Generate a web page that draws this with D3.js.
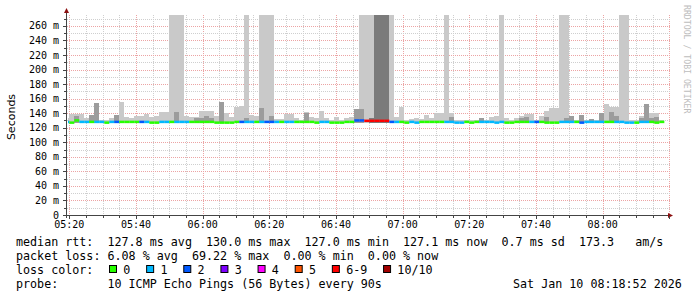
<!DOCTYPE html>
<html>
<head>
<meta charset="utf-8">
<script src="https://cdn.jsdelivr.net/npm/d3@7"></script>
<style>
  body { margin: 0; background: #fff; }
  text { font-family: "DejaVu Sans Mono", monospace; }
</style>
</head>
<body>
<svg id="chart"></svg>
<script>
var svgWidth = 697;
var svgHeight = 297;

// plot box in pixels
var plot = { left: 67, right: 670, top: 15, bottom: 215 };

// one sample every 90 s, first one starts 05:18:30
var stepSeconds = 90;
var firstStep = new Date(2026, 0, 10, 5, 18, 30);

// median rtt per step (ms)
var medianMs = [
  128, 127, 130, 128, 128, 128, 128, 128, 127, 128,
  128, 128, 128, 128, 128, 128, 128, 127, 127, 128,
  128, 128, 128, 128, 128, 128, 128, 128, 128, 128,
  127, 127, 127, 127, 128, 128, 128, 128, 128, 128,
  128, 128, 128, 128, 128, 128, 128, 128, 128, 128,
  127, 128, 128, 127, 127, 127, 128, 128, 130, 130,
  129.5, 129.5, 129.5, 129.5, 129.5, 128, 128, 128, 127, 128,
  127, 128, 128, 128, 128, 128, 128, 128, 127, 127,
  128, 127, 128, 128, 128, 128, 127, 128, 127, 127,
  128, 128, 128, 128, 128, 128, 127, 127, 127, 128,
  128, 128, 128, 127, 128, 128, 128, 128, 128, 128,
  128, 128, 127, 127, 127, 128, 128, 128, 127, 128
];

// lost pings (of 10) per step
var lossCount = [
  1, 0, 0, 1, 1, 0, 1, 1, 0, 1,
  2, 0, 0, 0, 0, 2, 1, 0, 0, 1,
  1, 0, 1, 1, 1, 0, 0, 0, 0, 0,
  0, 0, 0, 0, 0, 2, 1, 1, 0, 1,
  2, 2, 1, 0, 1, 1, 0, 0, 0, 0,
  0, 1, 1, 0, 0, 0, 0, 0, 2, 2,
  7, 7, 7, 6, 6, 2, 1, 0, 0, 1,
  1, 0, 0, 0, 0, 0, 1, 1, 1, 1,
  0, 0, 0, 1, 1, 1, 1, 1, 0, 0,
  0, 0, 0, 1, 2, 0, 0, 0, 0, 1,
  1, 1, 0, 2, 1, 1, 1, 1, 0, 0,
  1, 1, 1, 1, 0, 1, 1, 0, 0, 0
];

// smoke: highest ping per step (ms), light grey band
var smokeHi = [
  133, 139, 139, 139, 133, 137, 154, 131, 131, 133,
  137, 156, 135, 134, 136.6, 136.6, 139, 135, 136.6, 141,
  141, 300, 300, 300, 136.6, 135, 134.8, 143, 143, 143,
  136, 156, 140, 135, 149, 150, 300, 137.5, 136.6, 300,
  300, 300, 132, 132, 138.9, 139, 133, 131, 141, 135,
  133, 143, 133, 131, 135, 131, 133, 135, 146, 300,
  300, 300, 300, 300, 300, 300, 135, 148, 131, 132,
  134, 132, 137.5, 134, 140, 140, 300, 140, 131, 131,
  131, 131, 131, 133, 131, 135, 136.6, 300, 133, 131,
  133, 136.6, 139, 139, 131, 136.6, 143, 147, 147, 300,
  300, 136.6, 131, 137.5, 131, 132, 131, 140, 152, 148,
  148, 300, 300, 131, 131, 136.6, 153, 140, 140, 131
];

// smoke: middle grey band top (ms), 0 = none
var smokeMid = [
  0, 0, 136, 0, 0, 137, 154, 0, 0, 0,
  137, 0, 0, 0, 0, 0, 0, 0, 0, 0,
  0, 0, 142, 0, 0, 0, 133, 133, 136, 133,
  0, 156, 0, 0, 0, 0, 134, 0, 0, 147,
  0, 136, 0, 0, 0, 0, 0, 0, 140, 0,
  0, 0, 0, 0, 0, 0, 0, 0, 146, 146,
  0, 0, 0, 0, 0, 0, 0, 0, 0, 0,
  0, 0, 0, 0, 0, 0, 0, 135, 0, 0,
  0, 0, 0, 133, 0, 0, 0, 0, 0, 0,
  0, 134, 135, 0, 0, 0, 135, 0, 0, 0,
  134, 136.6, 0, 137.5, 0, 132, 0, 140, 0, 142,
  136, 0, 0, 0, 0, 133, 153, 134, 135, 0
];

// smoke: dark band top (ms), 0 = none
var smokeDark = [
  0, 0, 0, 0, 0, 0, 0, 0, 0, 0,
  0, 0, 0, 0, 0, 0, 0, 0, 0, 0,
  0, 0, 0, 0, 0, 0, 0, 0, 0, 0,
  0, 0, 0, 0, 0, 0, 0, 0, 0, 0,
  0, 0, 0, 0, 0, 0, 0, 0, 0, 0,
  0, 0, 0, 0, 0, 0, 0, 0, 0, 0,
  0, 134, 300, 300, 300, 0, 0, 0, 0, 0,
  0, 0, 0, 0, 0, 0, 0, 0, 0, 0,
  0, 0, 0, 0, 0, 0, 0, 0, 0, 0,
  0, 0, 0, 0, 0, 0, 0, 0, 0, 0,
  0, 0, 0, 0, 0, 0, 0, 0, 0, 0,
  0, 0, 0, 0, 0, 0, 0, 0, 0, 0
];

var lossLabels = ["0", "1", "2", "3", "4", "5", "6-9", "10/10"];
var lossColors = ["#26ff00", "#00b8ff", "#0059ff", "#7e00ff", "#ff00ff", "#ff5500", "#ff0000", "#a10000"];

var yTicks = [0, 20, 40, 60, 80, 100, 120, 140, 160, 180, 200, 220, 240, 260];
var yTickLabels = ["0", "20 m", "40 m", "60 m", "80 m", "100 m", "120 m", "140 m",
  "160 m", "180 m", "200 m", "220 m", "240 m", "260 m"];
var xTickLabels = ["05:20", "05:40", "06:00", "06:20", "06:40", "07:00", "07:20", "07:40", "08:00"];

var legendLines = [
  "median rtt:  127.8 ms avg  130.0 ms max  127.0 ms min  127.1 ms now  0.7 ms sd  173.3   am/s",
  "packet loss: 6.08 % avg  69.22 % max  0.00 % min  0.00 % now",
  "loss color:",
  "probe:       10 ICMP Echo Pings (56 Bytes) every 90s"
];
var stampText = "Sat Jan 10 08:18:52 2026";

var svg = d3.select("#chart")
  .attr("width", svgWidth)
  .attr("height", svgHeight);

svg.append("rect").attr("width", svgWidth).attr("height", svgHeight).attr("fill", "#fff");

var x = d3.scaleTime()
  .domain([new Date(2026, 0, 10, 5, 19, 18), new Date(2026, 0, 10, 8, 20, 12)])
  .range([plot.left, plot.right]);
var y = d3.scaleLinear().domain([0, 275]).range([plot.bottom, plot.top]);

function lossIndex(n) {
  if (n <= 5) return n;
  if (n < 10) return 6;
  return 7;
}

// grid
var grid = svg.append("g");
var minutes = d3.timeMinute.every(5).range(x.domain()[0], x.domain()[1]);
grid.selectAll("line.v")
  .data(minutes)
  .enter().append("line")
  .attr("x1", d => Math.round(x(d)) + 0.5)
  .attr("x2", d => Math.round(x(d)) + 0.5)
  .attr("y1", plot.top)
  .attr("y2", plot.bottom)
  .attr("stroke", d => d.getMinutes() % 20 === 0 ? "#eca4a4" : "#cfcfcf")
  .attr("stroke-dasharray", "1,1");

grid.selectAll("line.h")
  .data(d3.range(10, 280, 10))
  .enter().append("line")
  .attr("x1", plot.left)
  .attr("x2", plot.right)
  .attr("y1", d => Math.round(y(d)) + 0.5)
  .attr("y2", d => Math.round(y(d)) + 0.5)
  .attr("stroke", d => d % 20 === 0 ? "#eca4a4" : "#cfcfcf")
  .attr("stroke-dasharray", "1,1");

// data
svg.append("clipPath").attr("id", "clip")
  .append("rect")
  .attr("x", plot.left + 1).attr("y", plot.top)
  .attr("width", plot.right - plot.left - 1).attr("height", plot.bottom - plot.top);

var dataG = svg.append("g").attr("clip-path", "url(#clip)");
var steps = medianMs.map(function(m, i) {
  var t0 = new Date(firstStep.getTime() + i * stepSeconds * 1000);
  var t1 = new Date(t0.getTime() + stepSeconds * 1000);
  return { t0: t0, t1: t1, median: m, loss: lossCount[i],
    hi: smokeHi[i], mid: smokeMid[i], dark: smokeDark[i] };
});

var smokeBase = 126.5;
function band(key, color) {
  dataG.selectAll("rect." + key)
    .data(steps.filter(d => d[key] > 0))
    .enter().append("rect")
    .attr("class", key)
    .attr("x", d => x(d.t0))
    .attr("width", d => x(d.t1) - x(d.t0))
    .attr("y", d => y(d[key]))
    .attr("height", d => y(smokeBase) - y(d[key]))
    .attr("fill", color)
    .attr("shape-rendering", "crispEdges");
}
band("hi", "#c9c9c9");
band("mid", "#9c9c9c");
band("dark", "#7b7b7b");

dataG.selectAll("line.median")
  .data(steps)
  .enter().append("line")
  .attr("x1", d => x(d.t0))
  .attr("x2", d => x(d.t1))
  .attr("y1", d => y(d.median))
  .attr("y2", d => y(d.median))
  .attr("stroke", d => lossColors[lossIndex(d.loss)])
  .attr("stroke-width", 2.5);

// axes
var axisColor = "#444";
svg.append("line")
  .attr("x1", plot.left - 0.5).attr("x2", plot.left - 0.5)
  .attr("y1", plot.bottom + 3).attr("y2", 11)
  .attr("stroke", axisColor);
svg.append("line")
  .attr("x1", plot.left - 3).attr("x2", 669)
  .attr("y1", plot.bottom + 0.5).attr("y2", plot.bottom + 0.5)
  .attr("stroke", axisColor);
svg.append("path")
  .attr("d", `M${plot.left - 3},13 L${plot.left - 0.5},8 L${plot.left + 2},13 Z`)
  .attr("fill", "#8b0f0f");
svg.append("path")
  .attr("d", `M668,${plot.bottom - 2} L673,${plot.bottom + 0.5} L668,${plot.bottom + 3} Z`)
  .attr("fill", "#8b0f0f");

// tick marks
svg.selectAll("line.ytick")
  .data(d3.range(0, 280, 10))
  .enter().append("line")
  .attr("x1", d => d % 20 === 0 ? plot.left - 4 : plot.left - 3)
  .attr("x2", plot.left - 1)
  .attr("y1", d => Math.round(y(d)) + 0.5)
  .attr("y2", d => Math.round(y(d)) + 0.5)
  .attr("stroke", axisColor);
svg.selectAll("line.xtick")
  .data(minutes)
  .enter().append("line")
  .attr("x1", d => Math.round(x(d)) + 0.5)
  .attr("x2", d => Math.round(x(d)) + 0.5)
  .attr("y1", plot.bottom + 1)
  .attr("y2", d => d.getMinutes() % 20 === 0 ? plot.bottom + 4 : plot.bottom + 3)
  .attr("stroke", axisColor);

svg.selectAll("text.ylab")
  .data(yTicks)
  .enter().append("text")
  .attr("x", 59)
  .attr("y", d => y(d))
  .attr("dy", "0.35em")
  .attr("text-anchor", "end")
  .attr("font-size", "10px")
  .attr("fill", "#000")
  .text((d, i) => yTickLabels[i]);

var majorTimes = minutes.filter(d => d.getMinutes() % 20 === 0);
svg.selectAll("text.xlab")
  .data(majorTimes)
  .enter().append("text")
  .attr("x", d => x(d))
  .attr("y", 228)
  .attr("text-anchor", "middle")
  .attr("font-size", "10px")
  .attr("fill", "#000")
  .text((d, i) => xTickLabels[i]);

svg.append("text")
  .attr("transform", "translate(15,117) rotate(-90)")
  .attr("text-anchor", "middle")
  .attr("font-family", "DejaVu Sans")
  .attr("style", "font-family:'DejaVu Sans'")
  .attr("font-size", "11px")
  .text("Seconds");

svg.append("text")
  .attr("transform", "translate(684,5) rotate(90)")
  .attr("font-size", "8.2px")
  .attr("fill", "#bdbdbd")
  .text("RRDTOOL / TOBI OETIKER");

// legend
var legend = svg.append("g").attr("font-size", "11.7px").attr("fill", "#000");
legend.selectAll("text.line")
  .data(legendLines)
  .enter().append("text")
  .attr("x", 16)
  .attr("y", (d, i) => 245.5 + i * 14)
  .attr("xml:space", "preserve")
  .style("white-space", "pre")
  .text(d => d);

legend.append("text")
  .attr("x", 513)
  .attr("y", 245.5 + 3 * 14)
  .text(stampText);

var boxX = 109;
lossLabels.forEach(function(lbl, i) {
  legend.append("rect")
    .attr("x", boxX + 0.5).attr("y", 265.5)
    .attr("width", 7).attr("height", 7)
    .attr("fill", lossColors[i])
    .attr("stroke", "#000");
  legend.append("text")
    .attr("x", boxX + 14.3)
    .attr("y", 273.5)
    .text(lbl);
  boxX = boxX + 14.3 + lbl.length * 7.04 + 15.8;
});
</script>
</body>
</html>
